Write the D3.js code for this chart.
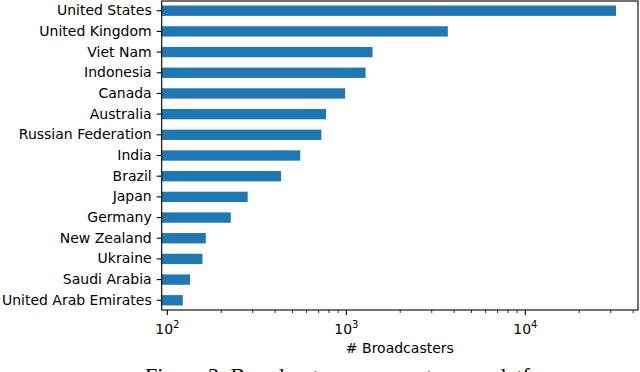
<!DOCTYPE html>
<html>
<head>
<meta charset="utf-8">
<script src="https://cdn.jsdelivr.net/npm/d3@7"></script>
<style>
  body { margin: 0; background: #fff; }
  svg { display: block; }
</style>
</head>
<body>
<div id="chart"></div>
<script>
const countries = ["United States", "United Kingdom", "Viet Nam", "Indonesia", "Canada",
    "Australia", "Russian Federation", "India", "Brazil", "Japan", "Germany",
    "New Zealand", "Ukraine", "Saudi Arabia", "United Arab Emirates"];
const broadcasters = [32100, 3690, 1400, 1280, 985, 770, 725, 553, 432, 281, 226, 164, 157, 134, 122];
const xTicks = [100, 1000, 10000];
const xTickExp = ["2", "3", "4"];

const width = 640, height = 372;
const margin = {top: 1, right: 2, bottom: 62, left: 161.7};
const font = "'DejaVu Sans', sans-serif";

const svg = d3.select("#chart")
    .append("svg")
    .attr("width", width)
    .attr("height", height);

const x = d3.scaleLog()
    .domain([93, 42600])
    .range([margin.left, width - margin.right]);

const y = d3.scaleBand()
    .domain(countries)
    .range([margin.top, height - margin.bottom])
    .paddingInner(0.5)
    .paddingOuter(0.22);

// bars
svg.append("g")
    .selectAll("rect")
    .data(countries)
    .enter().append("rect")
    .attr("x", x.range()[0])
    .attr("y", d => y(d))
    .attr("width", (d, i) => x(broadcasters[i]) - x.range()[0])
    .attr("height", y.bandwidth())
    .attr("fill", "#1f77b4");

// frame
svg.append("rect")
    .attr("x", x.range()[0])
    .attr("y", margin.top)
    .attr("width", x.range()[1] - x.range()[0])
    .attr("height", height - margin.bottom - margin.top)
    .attr("fill", "none")
    .attr("stroke", "#000")
    .attr("stroke-width", 1.1);

// y axis
const yAxis = svg.append("g")
    .attr("transform", `translate(${x.range()[0]},0)`)
    .call(d3.axisLeft(y).tickSize(5).tickPadding(5));
yAxis.select(".domain").remove();
yAxis.attr("font-family", null).attr("font-size", null);
yAxis.selectAll("text")
    .style("font-family", font)
    .style("font-size", "14px")
    .attr("fill", "#000");
yAxis.selectAll("line").attr("stroke-width", 1.1);

// x axis minor ticks
const bottom = height - margin.bottom;
const minor = [];
for (let d = 10; d <= 10000; d *= 10) {
    for (let k = 2; k <= 9; k++) {
        const v = d * k;
        if (v >= x.domain()[0] && v <= x.domain()[1]) minor.push(v);
    }
}
svg.append("g")
    .selectAll("line")
    .data(minor)
    .enter().append("line")
    .attr("x1", d => x(d)).attr("x2", d => x(d))
    .attr("y1", bottom).attr("y2", bottom + 3)
    .attr("stroke", "#000")
    .attr("stroke-width", 0.8);

// x axis major ticks
const xg = svg.append("g");
xg.selectAll("line")
    .data(xTicks)
    .enter().append("line")
    .attr("x1", d => x(d)).attr("x2", d => x(d))
    .attr("y1", bottom).attr("y2", bottom + 5)
    .attr("stroke", "#000")
    .attr("stroke-width", 1.1);

const lbl = xg.selectAll("text")
    .data(xTicks)
    .enter().append("text")
    .attr("x", d => x(d))
    .attr("y", bottom + 24)
    .attr("text-anchor", "middle")
    .style("font-family", font)
    .style("font-size", "14px");
lbl.append("tspan").text("10");
lbl.append("tspan")
    .attr("dy", -6)
    .style("font-size", "10px")
    .text((d, i) => xTickExp[i]);

// axis title
svg.append("text")
    .attr("x", (x.range()[0] + x.range()[1]) / 2)
    .attr("y", bottom + 43)
    .attr("text-anchor", "middle")
    .style("font-family", font)
    .style("font-size", "14px")
    .text("# Broadcasters");

// caption, cut off by the bottom edge as in the original figure
svg.append("text")
    .attr("x", 145)
    .attr("y", 383)
    .style("font-family", "'Liberation Serif', 'Times New Roman', serif")
    .style("font-size", "22px")
    .text("Figure 3: Broadcasters per country per platform.");
</script>
</body>
</html>
